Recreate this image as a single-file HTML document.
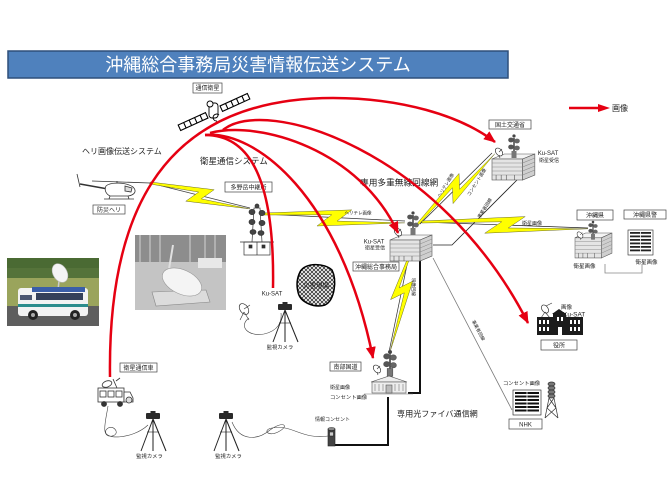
<!DOCTYPE html>
<html><head><meta charset="utf-8">
<style>
html,body{margin:0;padding:0;background:#fff;}
svg{display:block;}
text{font-family:"Liberation Sans","Noto Sans CJK JP",sans-serif;fill:#222;}
</style></head><body>
<svg width="672" height="504" viewBox="0 0 672 504" xmlns="http://www.w3.org/2000/svg">
<defs>
 <marker id="ah" markerWidth="12" markerHeight="10" refX="11" refY="5" orient="auto" markerUnits="userSpaceOnUse">
  <path d="M0,0 L12,5 L0,10 z" fill="#e60012"/>
 </marker>
 <pattern id="hatch" width="4" height="4" patternUnits="userSpaceOnUse">
  <rect width="4" height="4" fill="#fff"/>
  <path d="M0,0 L4,4 M4,0 L0,4" stroke="#333" stroke-width="0.8"/>
 </pattern>
 <g id="bld" stroke="#555" stroke-width="0.6">
  <polygon points="0,5 12,0 42,0 30,5" fill="#f4f4f4"/>
  <rect x="0" y="5" width="30" height="21" fill="#e4e4e4"/>
  <polygon points="30,5 42,0 42,21 30,26" fill="#cfcfcf"/>
  <path d="M0,9 H30 M0,13 H30 M0,17 H30 M0,21 H30" stroke="#888" stroke-width="0.5"/>
  <path d="M30,9 L42,4 M30,13 L42,8 M30,17 L42,12 M30,21 L42,16" stroke="#888" stroke-width="0.5"/>
  <path d="M4,21 V26 M9,21 V26 M14,21 V26 M22,21 V26"/>
 </g>
 <g id="twr">
  <line x1="0" y1="2" x2="0" y2="22" stroke="#444" stroke-width="1.5"/>
  <ellipse cx="-3" cy="4" rx="2.8" ry="2.4" fill="#555"/>
  <ellipse cx="3" cy="5" rx="2.8" ry="2.4" fill="#666"/>
  <ellipse cx="-3" cy="11" rx="2.8" ry="2.4" fill="#555"/>
  <ellipse cx="3" cy="12" rx="2.8" ry="2.4" fill="#666"/>
  <rect x="-2.5" y="15" width="5" height="7" fill="#777"/>
  <circle cx="0" cy="0" r="1.6" fill="#444"/>
 </g>
 <g id="dish">
  <ellipse cx="0" cy="0" rx="3" ry="4.5" transform="rotate(-40)" fill="#fff" stroke="#333" stroke-width="0.7"/>
  <line x1="0" y1="0" x2="3" y2="-3" stroke="#333" stroke-width="0.6"/>
  <line x1="0" y1="3" x2="1" y2="6" stroke="#333" stroke-width="0.6"/>
 </g>
 <g id="cam">
  <rect x="-7" y="-5" width="14" height="6" rx="1" fill="#2a2a2a"/>
  <rect x="-2.5" y="-7" width="5" height="2" fill="#2a2a2a"/>
  <g stroke="#222" stroke-width="1">
   <line x1="0" y1="1" x2="-12" y2="33"/>
   <line x1="0" y1="1" x2="0" y2="33"/>
   <line x1="0" y1="1" x2="13" y2="33"/>
  </g>
  <line x1="-6" y1="14" x2="6" y2="14" stroke="#222" stroke-width="0.6"/>
 </g>
</defs>

<!-- Title -->
<rect x="8" y="51" width="500" height="27" fill="#4f81bd" stroke="#2f4f7a" stroke-width="1.5"/>
<text x="258" y="71" font-size="18" text-anchor="middle" style="fill:#fff">沖縄総合事務局災害情報伝送システム</text>

<!-- Legend -->
<line x1="569" y1="108" x2="600" y2="108" stroke="#e60012" stroke-width="2.5"/>
<polygon points="598,104 610,108 598,112" fill="#e60012"/>
<text x="612" y="111" font-size="8">画像</text>

<!-- Photos -->
<g>
 <rect x="7" y="258" width="92" height="68" fill="#55733a"/>
 <rect x="7" y="258" width="92" height="10" fill="#4a6a33"/>
 <rect x="7" y="278" width="92" height="28" fill="#9aa45c"/>
 <rect x="7" y="306" width="92" height="20" fill="#5e5e5e"/>
 <line x1="60" y1="272" x2="58" y2="290" stroke="#ccc" stroke-width="1.5"/>
 <ellipse cx="60" cy="273" rx="7" ry="10" transform="rotate(-30 60 273)" fill="#f4f4f4" stroke="#bbb" stroke-width="0.6"/>
 <rect x="18" y="288" width="70" height="28" rx="3" fill="#f2f2f2"/>
 <rect x="32" y="287" width="53" height="5" fill="#3a5ea8"/>
 <rect x="36" y="293" width="47" height="7" fill="#34405a"/>
 <rect x="20" y="295" width="12" height="5" fill="#4a5570"/>
 <rect x="18" y="304" width="70" height="3" fill="#2b8c8c"/>
 <circle cx="33" cy="315" r="5" fill="#222"/><circle cx="33" cy="315" r="2" fill="#aaa"/>
 <circle cx="75" cy="315" r="5" fill="#222"/><circle cx="75" cy="315" r="2" fill="#aaa"/>
</g>
<g>
 <rect x="135" y="235" width="91" height="75" fill="#c4c4c4"/>
 <rect x="135" y="235" width="91" height="27" fill="#8d8d8d"/>
 <path d="M140,235 V262 M150,235 V262 M160,235 V262 M190,235 V262 M205,235 V262 M215,235 V262" stroke="#b0b0b0" stroke-width="2"/>
 <rect x="198" y="258" width="24" height="10" fill="#e8e8e8"/>
 <line x1="173" y1="245" x2="168" y2="275" stroke="#e0e0e0" stroke-width="2"/>
 <polygon points="152,292 206,290 210,302 156,306" fill="#dcdcdc" stroke="#888" stroke-width="0.6"/>
 <ellipse cx="182" cy="282" rx="21" ry="12" transform="rotate(25 182 282)" fill="#f4f4f4" stroke="#999" stroke-width="0.6"/>
</g>

<!-- thin network lines -->
<g fill="none">
 <line x1="150" y1="183" x2="250" y2="208" stroke="#444" stroke-width="0.7"/>
 <line x1="263" y1="214" x2="405" y2="221" stroke="#333" stroke-width="0.7"/>
 <line x1="420" y1="224" x2="492" y2="153" stroke="#222" stroke-width="0.7"/>
 <line x1="420" y1="222" x2="588" y2="228" stroke="#222" stroke-width="0.7"/>
 <line x1="408" y1="260" x2="389" y2="352" stroke="#333" stroke-width="0.7"/>
 <polyline points="433,245 452,245 517,180" stroke="#222" stroke-width="0.8"/>
 <line x1="433" y1="258" x2="512" y2="410" stroke="#777" stroke-width="0.8"/>
 <polyline points="605,264 605,273 642,273 642,265" stroke="#888" stroke-width="0.8"/>
 <polyline points="420,258 420,393 408,393" stroke="#111" stroke-width="2"/>
 <polyline points="388,397 388,445 335,445" stroke="#111" stroke-width="2"/>
</g>

<!-- lightning bolts -->
<g fill="#ffff00" stroke="#6b6b2a" stroke-width="0.5">
 <polygon transform="translate(150,183) rotate(14) scale(1.03,1)" vector-effect="non-scaling-stroke" points="0,-1 62,-9 52,3 100,1 38,9 48,-3 0,1"/>
 <polygon transform="translate(264,214) rotate(3.2) scale(1.41,1)" vector-effect="non-scaling-stroke" points="0,-1 62,-9 52,3 100,1 38,9 48,-3 0,1"/>
 <polygon transform="translate(418,224) rotate(-43) scale(1.04,1)" vector-effect="non-scaling-stroke" points="0,-1 62,-9 52,3 100,1 38,9 48,-3 0,1"/>
 <polygon transform="translate(422,222) rotate(2) scale(1.66,1)" vector-effect="non-scaling-stroke" points="0,-1 62,-9 52,3 100,1 38,9 48,-3 0,1"/>
 <polygon transform="translate(408,260) rotate(101.7) scale(0.94,-1)" vector-effect="non-scaling-stroke" points="0,-1 45,-9 35,3 100,1 21,9 31,-3 0,1"/>
</g>

<!-- Satellite -->
<g transform="translate(214,112) rotate(-24.5)" stroke="#000" stroke-width="1.1" fill="#fff">
 <rect x="-38" y="-3" width="30" height="6"/>
 <rect x="8" y="-3" width="30" height="6"/>
 <path d="M-32,-3 V3 M-26,-3 V3 M-20,-3 V3 M-14,-3 V3 M14,-3 V3 M20,-3 V3 M26,-3 V3 M32,-3 V3" fill="none"/>
</g>
<g stroke="#000" stroke-width="0.9" fill="#fff">
 <rect x="209" y="103" width="9" height="15" rx="3"/>
 <circle cx="210" cy="104" r="3"/>
 <path d="M219,115 a3.5,3.5 0 1 0 -2,6" fill="none"/>
</g>

<!-- Helicopter -->
<g stroke="#333" stroke-width="0.8">
 <line x1="92" y1="181" x2="150" y2="183"/>
 <line x1="108" y1="189" x2="80" y2="184" stroke-width="1.4"/>
 <line x1="77" y1="174" x2="80" y2="187"/>
 <path d="M106,186 C110,182 126,182 133,187 C137,191 135,195 128,196 L110,196 C106,194 104,190 106,186 Z" fill="#fff"/>
 <path d="M125,186 L132,188 L131,192 L125,191 Z" fill="#ddd"/>
 <line x1="117" y1="183" x2="117" y2="181"/>
 <line x1="104" y1="199" x2="134" y2="199"/>
 <line x1="110" y1="196" x2="109" y2="199"/><line x1="128" y1="196" x2="129" y2="199"/>
</g>

<!-- 多野岳 -->
<g stroke="#333" stroke-width="0.7">
 <rect x="244" y="242" width="26" height="13" fill="#fff"/>
 <line x1="240" y1="242" x2="274" y2="242"/>
 <line x1="257" y1="242" x2="257" y2="255"/>
 <rect x="249" y="245" width="3" height="3" fill="#333"/>
 <rect x="262" y="245" width="3" height="3" fill="#333"/>
 <path d="M252,242 L254,208 L260,208 L262,242" fill="none"/>
 <ellipse cx="252" cy="212" rx="3" ry="2.7" fill="#444"/>
 <ellipse cx="262" cy="213" rx="3" ry="2.7" fill="#444"/>
 <ellipse cx="252" cy="222" rx="3" ry="2.7" fill="#444"/>
 <ellipse cx="262" cy="223" rx="3" ry="2.7" fill="#444"/>
 <ellipse cx="253" cy="232" rx="3" ry="2.4" fill="#444"/>
 <ellipse cx="261" cy="233" rx="3" ry="2.4" fill="#444"/>
 <circle cx="257" cy="206" r="2" fill="#444"/>
</g>

<!-- Disaster area -->
<path d="M300,272 C305,262 325,263 332,270 C337,280 335,300 325,305 C315,308 300,303 298,292 C296,284 297,278 300,272 Z" fill="url(#hatch)" stroke="#000" stroke-width="1.5"/>

<!-- Ku-SAT dish and camera -->
<g>
 <ellipse cx="244" cy="309" rx="4" ry="6" transform="rotate(-35 244 309)" fill="#fff" stroke="#333" stroke-width="0.7"/>
 <path d="M244,312 L240,320 M244,312 L249,320 M244,309 L250,305" stroke="#333" stroke-width="0.6" fill="none"/>
 <path d="M249,318 C238,326 248,337 264,334 C278,331 282,322 281,313" stroke="#444" stroke-width="0.6" fill="none"/>
 <use href="#cam" transform="translate(285,309)"/>
</g>

<!-- Buildings -->
<use href="#bld" transform="translate(492,154) scale(1.02,1)"/>
<use href="#twr" transform="translate(514,136)"/>
<use href="#dish" transform="translate(499,152)"/>

<use href="#bld" transform="translate(390,235)"/>
<use href="#twr" transform="translate(413,213)"/>
<use href="#dish" transform="translate(398,232)"/>

<use href="#bld" transform="translate(575,233) scale(0.88,0.96)"/>
<use href="#twr" transform="translate(593,222) scale(0.8)"/>
<use href="#dish" transform="translate(580,235) scale(0.8)"/>

<!-- 沖縄県警 -->
<g>
 <rect x="628" y="230" width="25" height="25" fill="#fff" stroke="#222" stroke-width="0.6"/>
 <g fill="#222">
  <rect x="630" y="232" width="21" height="1.8"/><rect x="630" y="235.5" width="21" height="1.8"/>
  <rect x="630" y="239" width="21" height="1.8"/><rect x="630" y="242.5" width="21" height="1.8"/>
  <rect x="630" y="246" width="21" height="1.8"/><rect x="630" y="249.5" width="21" height="1.8"/>
 </g>
 <line x1="640.5" y1="231" x2="640.5" y2="254" stroke="#fff" stroke-width="0.8"/>
</g>

<!-- 南部国道 -->
<g stroke="#555" stroke-width="0.6">
 <use href="#twr" transform="translate(390,352) scale(1.1)"/>
 <use href="#dish" transform="translate(377,369)"/>
 <polygon points="371,382 389,376 407,382" fill="#eee"/>
 <rect x="372" y="382" width="34" height="11" fill="#eee"/>
 <path d="M375,384 V391 M379,384 V391 M383,384 V391 M395,384 V391 M399,384 V391 M403,384 V391" stroke="#777"/>
 <rect x="386" y="385" width="6" height="8" fill="#bbb"/>
 <line x1="364" y1="394" x2="413" y2="394" stroke="#777"/>
</g>

<!-- 役所 -->
<g>
 <ellipse cx="545" cy="309" rx="3" ry="4.5" transform="rotate(-35 545 309)" fill="#fff" stroke="#333" stroke-width="0.7"/>
 <path d="M545,312 L541,318 M545,312 L550,318 M546,306 L552,303" stroke="#333" stroke-width="0.6" fill="none"/>
 <rect x="537" y="317" width="46" height="18" fill="#1c1c1c"/>
 <polygon points="552,314 559,309 566,314" fill="#1c1c1c"/>
 <rect x="553" y="313" width="13" height="22" fill="#1c1c1c"/>
 <g fill="#fff">
  <rect x="539" y="320" width="2" height="4"/><rect x="543" y="320" width="2" height="4"/><rect x="547" y="320" width="2" height="4"/>
  <rect x="539" y="327" width="2" height="4"/><rect x="543" y="327" width="2" height="4"/><rect x="547" y="327" width="2" height="4"/>
  <rect x="570" y="320" width="2" height="4"/><rect x="574" y="320" width="2" height="4"/><rect x="578" y="320" width="2" height="4"/>
  <rect x="570" y="327" width="2" height="4"/><rect x="574" y="327" width="2" height="4"/><rect x="578" y="327" width="2" height="4"/>
  <rect x="557" y="317" width="2" height="4"/><rect x="561" y="317" width="2" height="4"/>
  <rect x="558" y="327" width="4" height="8"/>
 </g>
</g>

<!-- NHK -->
<g>
 <rect x="513" y="390" width="28" height="25" fill="#fff" stroke="#111" stroke-width="0.6"/>
 <g fill="#111">
  <rect x="515" y="392" width="24" height="2"/><rect x="515" y="395.5" width="24" height="2"/>
  <rect x="515" y="399" width="24" height="2"/><rect x="515" y="402.5" width="24" height="2"/>
  <rect x="515" y="406" width="24" height="2"/><rect x="515" y="409.5" width="24" height="2"/>
 </g>
 <line x1="527" y1="391" x2="527" y2="412" stroke="#fff" stroke-width="0.8"/>
 <g stroke="#333" stroke-width="0.7" fill="none">
  <ellipse cx="551.5" cy="384" rx="3.5" ry="2" fill="#777"/>
  <ellipse cx="551.5" cy="388" rx="3.5" ry="2" fill="#777"/>
  <ellipse cx="551.5" cy="392" rx="3.5" ry="2" fill="#777"/>
  <ellipse cx="551.5" cy="396" rx="3.5" ry="2" fill="#777"/>
  <path d="M549,398 L545,418 M554,398 L558,418 M549,398 L556,408 M554,398 L547,408 M547,408 L558,418 M556,408 L545,418"/>
 </g>
</g>

<!-- 衛星通信車 -->
<g stroke="#333" stroke-width="0.8">
 <ellipse cx="107" cy="384" rx="5" ry="3" transform="rotate(-20 107 384)" fill="#fff"/>
 <line x1="113" y1="379" x2="117" y2="388"/>
 <line x1="116" y1="381" x2="120" y2="378"/>
 <rect x="98" y="388" width="26" height="14" fill="#fff"/>
 <rect x="100" y="391" width="6" height="6" fill="none"/>
 <rect x="108" y="391" width="6" height="6" fill="none"/>
 <rect x="116" y="391" width="6" height="6" fill="none"/>
 <path d="M124,392 L130,392 L133,398 L133,402 L124,402 Z" fill="#fff"/>
 <circle cx="129" cy="400" r="3" fill="#ddd"/>
 <circle cx="104" cy="404" r="2.5" fill="#333"/>
 <circle cx="120" cy="404" r="2.5" fill="#333"/>
</g>

<!-- cameras and cables -->
<use href="#cam" transform="translate(153,418)"/>
<use href="#cam" transform="translate(226,418)"/>
<g fill="none" stroke="#444" stroke-width="0.6">
 <path d="M108,406 C106,420 100,438 112,436 C122,434 112,422 106,430 C102,440 132,440 148,425"/>
 <path d="M232,422 C240,442 258,440 270,430 C284,420 290,426 278,432 C268,437 262,430 272,428 C292,424 302,440 328,436"/>
</g>
<!-- 情報コンセント -->
<g stroke="#222" stroke-width="0.6">
 <rect x="328" y="429" width="7" height="17" fill="#444"/>
 <ellipse cx="331.5" cy="429" rx="3.5" ry="1.5" fill="#888"/>
 <rect x="329.5" y="432" width="4" height="4" fill="#ccc"/>
</g>

<!-- Boxes -->
<g fill="#fff" stroke="#444" stroke-width="0.7">
 <rect x="193" y="83" width="29" height="10"/>
 <rect x="489" y="120" width="42" height="9"/>
 <rect x="225" y="182" width="47" height="10"/>
 <rect x="93" y="205" width="32" height="9"/>
 <rect x="353" y="262" width="46" height="9"/>
 <rect x="330" y="362" width="31" height="9"/>
 <rect x="120" y="363" width="37" height="9"/>
 <rect x="577" y="210" width="36" height="10"/>
 <rect x="624" y="210" width="42" height="9"/>
 <rect x="541" y="340" width="36" height="10"/>
 <rect x="509" y="419" width="33" height="10"/>
</g>
<g font-size="10" text-anchor="middle">
 <text transform="translate(207.5,90.2) scale(0.6)">通信衛星</text>
 <text transform="translate(510,126.8) scale(0.6)">国土交通省</text>
 <text transform="translate(248.5,189.3) scale(0.6)">多野岳中継所</text>
 <text transform="translate(109,211.8) scale(0.6)">防災ヘリ</text>
 <text transform="translate(376,268.8) scale(0.6)">沖縄総合事務局</text>
 <text transform="translate(345.5,368.8) scale(0.6)">南部国道</text>
 <text transform="translate(138.5,369.8) scale(0.6)">衛星通信車</text>
 <text transform="translate(595,217.3) scale(0.6)">沖縄県</text>
 <text transform="translate(645,216.8) scale(0.6)">沖縄県警</text>
 <text transform="translate(559,347.3) scale(0.6)">役所</text>
 <text transform="translate(525.5,426.3) scale(0.6)">NHK</text>

 <text transform="translate(548,155.2) scale(0.6)">Ku-SAT</text>
 <text transform="translate(549,162) scale(0.5)">衛星受信</text>
 <text transform="translate(374,243.3) scale(0.6)">Ku-SAT</text>
 <text transform="translate(375,249.5) scale(0.5)">衛星受信</text>
 <text transform="translate(272,295.3) scale(0.6)">Ku-SAT</text>
 <text transform="translate(280,349) scale(0.53)">監視カメラ</text>
 <text transform="translate(149.5,458) scale(0.53)">監視カメラ</text>
 <text transform="translate(228.5,458) scale(0.53)">監視カメラ</text>
 <text transform="translate(332.5,421) scale(0.5)">情報コンセント</text>
 <text transform="translate(584.5,268) scale(0.55)">衛星画像</text>
 <text transform="translate(646.5,264) scale(0.55)">衛星画像</text>
 <text transform="translate(521.5,385) scale(0.53)">コンセント画像</text>
 <text transform="translate(316,287.5) scale(0.65)">災害現場</text>
 <text transform="translate(358,214.5) scale(0.45)">ヘリテレ画像</text>
 <text transform="translate(532,225) scale(0.5)">衛星画像</text>
 <text transform="translate(447,186) rotate(-58) scale(0.45)">ヘリテレ画像</text>
 <text transform="translate(478,183) rotate(-58) scale(0.45)">コンセント画像</text>
 <text transform="translate(486,209) rotate(-58) scale(0.45)">事業者回線</text>
 <text transform="translate(477,331) rotate(62) scale(0.45)">事業者回線</text>
 <text transform="translate(412,287) rotate(90) scale(0.45)">映像回線</text>
</g>
<g font-size="10">
 <text transform="translate(330,389) scale(0.5)">衛星画像</text>
 <text transform="translate(330,399) scale(0.53)">コンセント画像</text>
 <text transform="translate(561,309) scale(0.55)">画像</text>
 <text transform="translate(563,316.5) scale(0.65)">Ku-SAT</text>
</g>

<!-- medium labels -->
<text x="82" y="154" font-size="8">ヘリ画像伝送システム</text>
<text x="200" y="164" font-size="8.5">衛星通信システム</text>
<text x="360" y="185.3" font-size="8.7">専用多重無線回線網</text>
<text x="397" y="416.3" font-size="8.1">専用光ファイバ通信網</text>

<!-- Red arcs -->
<g fill="none" stroke="#e60012" stroke-width="2.5">
 <path d="M110,377 C108,230 150,98 333,98 C400,98 460,115 495,142" marker-end="url(#ah)"/>
 <path d="M223,130 C265,95 440,150 528,323" marker-end="url(#ah)"/>
 <path d="M210,133 C260,120 360,150 398,233" marker-end="url(#ah)"/>
 <path d="M205,135 C255,130 340,195 373,358" marker-end="url(#ah)"/>
 <path d="M205,135 C245,135 275,170 273,288"/>
</g>
</svg>
</body></html>
